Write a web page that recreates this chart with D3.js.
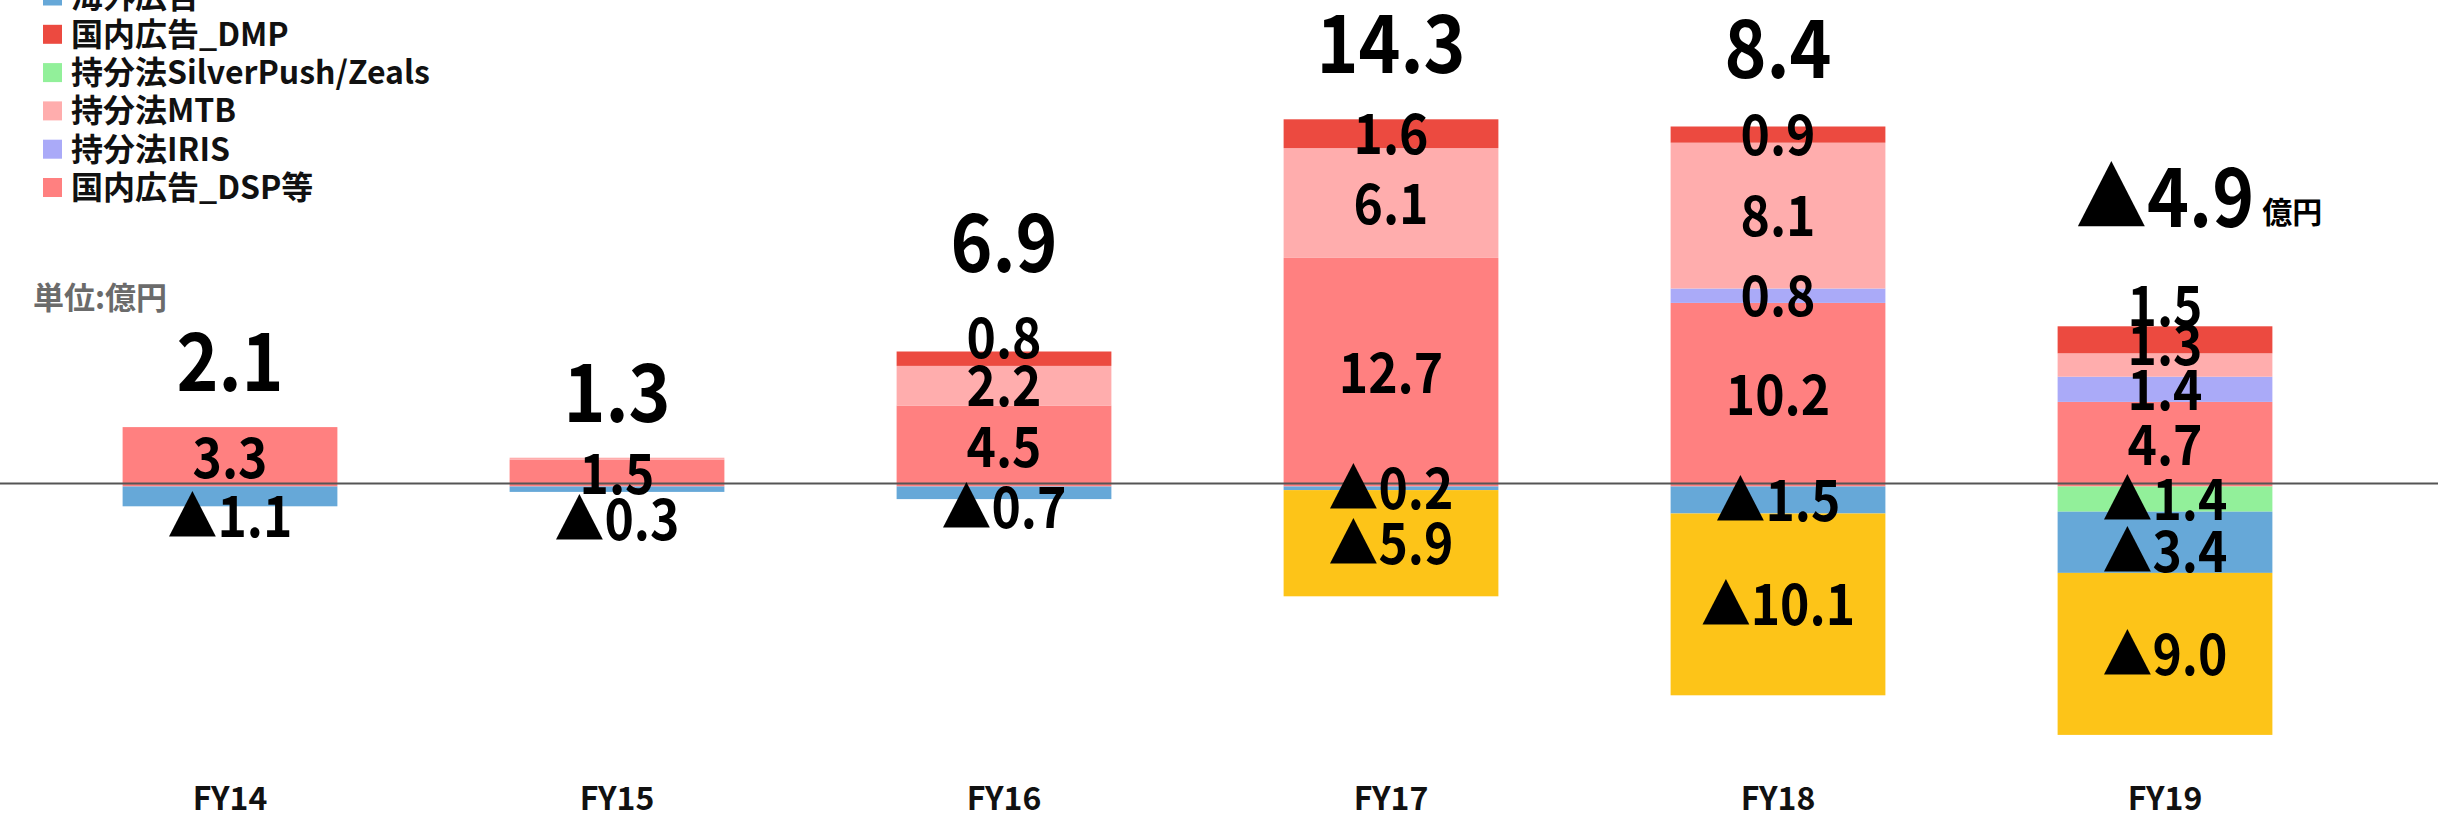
<!DOCTYPE html>
<html>
<head>
<meta charset="utf-8">
<script src="https://cdn.jsdelivr.net/npm/d3@7"></script>
<style>
  html, body { margin: 0; padding: 0; background: #fff; }
  svg { display: block; font-family: "Noto Sans CJK JP", "Noto Sans", sans-serif; }
</style>
</head>
<body>
<div id="chart-container"></div>
<script>
const years = ["FY14", "FY15", "FY16", "FY17", "FY18", "FY19"];
const dsp = [3.3, 1.5, 4.5, 12.7, 10.2, 4.7];          // 国内広告_DSP等
const iris = [0, 0, 0, 0, 0.8, 1.4];                   // 持分法IRIS
const mtb = [0, 0.1, 2.2, 6.1, 8.1, 1.3];              // 持分法MTB
const silverpush = [0, 0, 0, 0, 0, -1.4];              // 持分法SilverPush/Zeals
const dmp = [0, 0, 0.8, 1.6, 0.9, 1.5];                // 国内広告_DMP
const overseas = [-1.1, -0.3, -0.7, -0.2, -1.5, -3.4]; // 海外広告
const other = [0, 0, 0, -5.9, -10.1, -9.0];            // その他 (legend row cut off)
const totals = [2.1, 1.3, 6.9, 14.3, 8.4, -4.9];

const series = [
    { key: "dsp", name: "国内広告_DSP等", values: dsp, color: "#ff8080" },
    { key: "iris", name: "持分法IRIS", values: iris, color: "#aaaaf8" },
    { key: "mtb", name: "持分法MTB", values: mtb, color: "#ffadad" },
    { key: "silverpush", name: "持分法SilverPush/Zeals", values: silverpush, color: "#92f09a" },
    { key: "dmp", name: "国内広告_DMP", values: dmp, color: "#ec4a40" },
    { key: "overseas", name: "海外広告", values: overseas, color: "#66a8d8" },
    { key: "other", name: "その他", values: other, color: "#fdc418" }
];
const legendOrder = ["other", "overseas", "dmp", "silverpush", "mtb", "iris", "dsp"];

// hand placed labels in the original
const labelNudge = {
    "FY14|overseas": 20, "FY15|overseas": 30,
    "FY16|dmp": -21, "FY16|overseas": 14,
    "FY19|dmp": -35, "FY19|mtb": -21, "FY19|overseas": 9
};
const totalNudge = { FY15: 6, FY16: -9, FY17: -4, FY19: -21 };
const squeeze = 0.89; // numbers in the original are narrower than the local font

const svgWidth = 2438;
const svgHeight = 813;

const svg = d3.select("#chart-container")
    .append("svg")
    .attr("width", svgWidth)
    .attr("height", svgHeight);

const rows = years.map((yr, i) => {
    const r = { year: yr };
    series.forEach(s => { r[s.key] = s.values[i]; });
    return r;
});

const stacked = d3.stack()
    .keys(series.map(s => s.key))
    .offset(d3.stackOffsetDiverging)(rows);

const x = d3.scaleBand()
    .domain(years)
    .range([36.5, 2358.5])
    .paddingInner(0.445)
    .paddingOuter(0.2225);

const y = d3.scaleLinear()
    .domain([-14, 22])
    .range([738.5, 90.5]);

const color = {};
series.forEach(s => { color[s.key] = s.color; });
const fmt = v => (v < 0 ? "▲" : "") + d3.format(".1f")(Math.abs(v));

// bars
const layers = svg.append("g").selectAll("g")
    .data(stacked)
    .enter()
    .append("g")
    .attr("fill", d => color[d.key]);

layers.selectAll("rect")
    .data(d => d.filter(p => p[1] !== p[0]))
    .enter()
    .append("rect")
    .attr("x", d => x(d.data.year))
    .attr("width", x.bandwidth())
    .attr("y", d => y(Math.max(d[0], d[1])))
    .attr("height", d => Math.abs(y(d[0]) - y(d[1])));

// zero line
svg.append("line")
    .attr("x1", 0).attr("x2", svgWidth)
    .attr("y1", y(0) - 3).attr("y2", y(0) - 3)
    .attr("stroke", "#555")
    .attr("stroke-width", 2);

// segment labels
const labels = [];
stacked.forEach(layer => {
    layer.forEach(p => {
        const v = p.data[layer.key];
        if (Math.abs(v) < 0.15) return;
        const cy = (y(p[0]) + y(p[1])) / 2 + (labelNudge[p.data.year + "|" + layer.key] || 0);
        labels.push({ year: p.data.year, v: v, cy: cy });
    });
});

svg.append("g").selectAll("text")
    .data(labels)
    .enter()
    .append("text")
    .attr("transform", d => `translate(${x(d.year) + x.bandwidth() / 2},${d.cy}) scale(${squeeze},1)`)
    .attr("dy", "0.37em")
    .attr("text-anchor", "middle")
    .attr("font-size", "56px")
    .attr("font-weight", "bold")
    .attr("fill", "#000")
    .text(d => fmt(d.v));

// totals
years.forEach((yr, i) => {
    const posSum = d3.sum(series, s => Math.max(0, s.values[i]));
    const labelTop = d3.min(labels.filter(l => l.year === yr), l => l.cy - 21);
    const base = Math.min(y(posSum), labelTop) - 36 + (totalNudge[yr] || 0);
    const cx = x(yr) + x.bandwidth() / 2;
    const t = svg.append("text")
        .attr("transform", `translate(${cx},${base}) scale(${squeeze},1)`)
        .attr("text-anchor", "middle")
        .attr("font-size", "80px")
        .attr("font-weight", "bold")
        .attr("fill", "#000")
        .text(fmt(totals[i]));
    if (i === years.length - 1) {
        const w = t.node().getComputedTextLength() * squeeze;
        svg.append("text")
            .attr("x", cx + w / 2 + 8)
            .attr("y", base - 4)
            .attr("font-size", "30px")
            .attr("font-weight", "bold")
            .attr("fill", "#000")
            .text("億円");
    }
});

// category axis
const axis = svg.append("g")
    .call(d3.axisBottom(x).tickSize(0));
axis.select(".domain").remove();
axis.selectAll("text")
    .attr("y", 810)
    .attr("dy", null)
    .attr("font-size", "32px")
    .attr("font-weight", "bold")
    .attr("font-family", "'Noto Sans CJK JP', sans-serif")
    .attr("fill", "#111");

// unit
svg.append("text")
    .attr("x", 33)
    .attr("y", 309)
    .attr("font-size", "31px")
    .attr("font-weight", "bold")
    .attr("fill", "#6b6b6b")
    .text("単位:億円");

// legend (first row sits above the top edge, as in the original)
const legend = svg.append("g");
legendOrder.forEach((k, i) => {
    const s = series.find(d => d.key === k);
    const cy = 34.3 + (i - 2) * 38.3;
    legend.append("rect").attr("x", 43).attr("y", cy - 9.5).attr("width", 19).attr("height", 19).attr("fill", s.color);
    legend.append("text").attr("x", 71).attr("y", cy).attr("dy", "0.36em")
        .attr("font-size", "32px").attr("font-weight", "bold").attr("fill", "#111").text(s.name);
});
</script>
</body>
</html>
